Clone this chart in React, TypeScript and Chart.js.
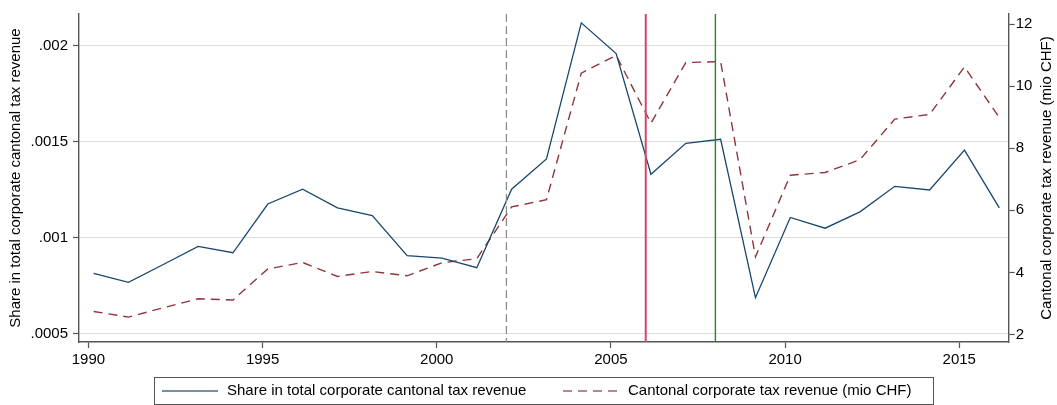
import { useEffect, useRef } from 'react';
import { Chart, registerables } from 'chart.js';
import type { ChartConfiguration, Plugin } from 'chart.js';

Chart.register(...registerables);

const years = [
  1990, 1991, 1992, 1993, 1994, 1995, 1996, 1997, 1998, 1999, 2000, 2001, 2002, 2003,
  2004, 2005, 2006, 2007, 2008, 2009, 2010, 2011, 2012, 2013, 2014, 2015, 2016,
];

// share in total corporate cantonal tax revenue (left axis)
const shareValues = [
  0.000814, 0.000767, 0.00086, 0.000954, 0.000921, 0.001175, 0.001252, 0.001155, 0.001115,
  0.000906, 0.000893, 0.000843, 0.001252, 0.00141, 0.002119, 0.001959, 0.00133, 0.001491,
  0.001512, 0.000687, 0.001105, 0.001049, 0.001134, 0.001267, 0.001248, 0.001456, 0.001155,
];

// cantonal corporate tax revenue, mio CHF (right axis)
const revenueValues = [
  2.74, 2.56, 2.86, 3.15, 3.11, 4.11, 4.32, 3.87, 4.03, 3.89, 4.31, 4.44, 6.11, 6.34,
  10.42, 10.99, 8.81, 10.76, 10.79, 4.5, 7.13, 7.22, 7.63, 8.94, 9.09, 10.62, 8.99,
];

const xTicks = [1990, 1995, 2000, 2005, 2010, 2015];
const leftTicks = [0.0005, 0.001, 0.0015, 0.002];
const rightTicks = [2, 4, 6, 8, 10, 12];
const markerYears = [2002, 2006, 2008];

const leftTitle = 'Share in total corporate cantonal tax revenue';
const rightTitle = 'Cantonal corporate tax revenue (mio CHF)';

// observations sit a bit after the year mark
const pointShift = 0.15;

const FONT = '"Liberation Sans", Arial, Helvetica, sans-serif';
const FONT_SIZE = 15;
const AXIS_COLOR = '#555555';
const NAVY = '#1a476f';
const MAROON = '#90353b';

const markerStyles = [
  { color: '#8c8c8c', width: 1.3, dash: [8, 4] },
  { color: '#d6456b', width: 2, dash: [] as number[] },
  { color: '#218a21', width: 1.4, dash: [] as number[] },
];

function stataNumber(v: number) {
  const s = Number(v.toPrecision(6)).toString();
  return s.startsWith('0.') ? s.slice(1) : s;
}

const markerLines: Plugin<'line'> = {
  id: 'markerLines',
  afterDatasetsDraw(chart) {
    const { ctx, chartArea, scales } = chart;
    markerYears.forEach((yr, i) => {
      const st = markerStyles[i];
      const x = scales.x.getPixelForValue(yr);
      ctx.save();
      ctx.strokeStyle = st.color;
      ctx.lineWidth = st.width;
      ctx.setLineDash(st.dash);
      ctx.beginPath();
      ctx.moveTo(x, chartArea.top);
      ctx.lineTo(x, chartArea.bottom);
      ctx.stroke();
      ctx.restore();
    });
  },
};

const titlesAndLegend: Plugin<'line'> = {
  id: 'titlesAndLegend',
  afterDraw(chart) {
    const { ctx, chartArea } = chart;
    const midY = (chartArea.top + chartArea.bottom) / 2;
    ctx.save();
    ctx.font = `${FONT_SIZE}px ${FONT}`;
    ctx.fillStyle = '#000';
    ctx.textAlign = 'center';
    ctx.textBaseline = 'middle';

    // axis titles, both reading bottom to top
    [[16, leftTitle], [1047, rightTitle]].forEach(([x, text]) => {
      ctx.save();
      ctx.translate(x as number, midY);
      ctx.rotate(-Math.PI / 2);
      ctx.fillText(text as string, 0, 0);
      ctx.restore();
    });

    // legend box
    ctx.strokeStyle = AXIS_COLOR;
    ctx.lineWidth = 1;
    ctx.strokeRect(154.5, 377.5, 779, 27);

    const entries = chart.data.datasets.map((ds, i) => ({
      label: ds.label as string,
      color: ds.borderColor as string,
      dash: (ds as any).borderDash as number[] | undefined,
      x0: i === 0 ? 162 : 563,
    }));
    entries.forEach((e) => {
      ctx.save();
      ctx.strokeStyle = e.color;
      ctx.globalAlpha = 0.8;
      ctx.lineWidth = 1.4;
      ctx.setLineDash(e.dash || []);
      ctx.beginPath();
      ctx.moveTo(e.x0, 391);
      ctx.lineTo(e.x0 + 56, 391);
      ctx.stroke();
      ctx.restore();
      ctx.textAlign = 'left';
      ctx.fillText(e.label, e.x0 + 65, 391);
    });
    ctx.restore();
  },
};

export default function App() {
  const canvasRef = useRef<HTMLCanvasElement>(null);
  const chartRef = useRef<Chart | null>(null);

  useEffect(() => {
    if (!canvasRef.current) return;
    if (chartRef.current) chartRef.current.destroy();

    const tickFont = { family: FONT, size: FONT_SIZE };

    const config: ChartConfiguration<'line'> = {
      type: 'line',
      data: {
        datasets: [
          {
            label: leftTitle,
            data: years.map((yr, i) => ({ x: yr + pointShift, y: shareValues[i] })),
            borderColor: NAVY,
            borderWidth: 1.3,
            pointRadius: 0,
            tension: 0,
            yAxisID: 'y',
          },
          {
            label: rightTitle,
            data: years.map((yr, i) => ({ x: yr + pointShift, y: revenueValues[i] })),
            borderColor: MAROON,
            borderWidth: 1.4,
            borderDash: [9, 6],
            pointRadius: 0,
            tension: 0,
            yAxisID: 'y2',
          },
        ],
      },
      options: {
        responsive: false,
        animation: false,
        devicePixelRatio: 1,
        layout: { padding: { top: 7, left: 0, right: 0, bottom: 0 } },
        plugins: { legend: { display: false }, tooltip: { enabled: false } },
        scales: {
          x: {
            type: 'linear',
            position: 'bottom',
            min: 1989.73,
            max: 2016.42,
            afterBuildTicks: (axis) => {
              axis.ticks = xTicks.map((v) => ({ value: v }));
            },
            afterFit: (axis) => {
              axis.height = 63;
            },
            grid: { drawOnChartArea: false, tickLength: 6, tickColor: AXIS_COLOR, tickWidth: 1.2 },
            border: { color: AXIS_COLOR, width: 1.4 },
            ticks: {
              font: tickFont,
              color: '#000',
              padding: 3,
              maxRotation: 0,
              autoSkip: false,
              callback: (v) => String(v),
            },
          },
          y: {
            type: 'linear',
            position: 'left',
            min: 0.000456,
            max: 0.002165,
            afterBuildTicks: (axis) => {
              axis.ticks = leftTicks.map((v) => ({ value: v }));
            },
            afterFit: (axis) => {
              axis.width = 79;
            },
            grid: { color: '#dedede', lineWidth: 1, tickLength: 6, tickColor: AXIS_COLOR, tickWidth: 1.2 },
            border: { color: AXIS_COLOR, width: 1.4 },
            ticks: {
              font: tickFont,
              color: '#000',
              padding: 5,
              callback: (v) => stataNumber(Number(v)),
            },
          },
          y2: {
            type: 'linear',
            position: 'right',
            min: 1.757,
            max: 12.325,
            afterBuildTicks: (axis) => {
              axis.ticks = rightTicks.map((v) => ({ value: v }));
            },
            afterFit: (axis) => {
              axis.width = 48.3;
            },
            grid: { drawOnChartArea: false, tickLength: 6, tickColor: AXIS_COLOR, tickWidth: 1.2 },
            border: { color: AXIS_COLOR, width: 1.4 },
            ticks: {
              font: tickFont,
              color: '#000',
              padding: 1,
              callback: (v) => String(v),
            },
          },
        },
      },
      plugins: [markerLines, titlesAndLegend],
    };

    chartRef.current = new Chart(canvasRef.current, config);

    return () => {
      if (chartRef.current) {
        chartRef.current.destroy();
        chartRef.current = null;
      }
    };
  }, []);

  return (
    <div style={{ position: 'fixed', left: 0, top: 0, width: 1057, height: 405, background: '#fff' }}>
      <canvas ref={canvasRef} width={1057} height={405} style={{ width: 1057, height: 405 }} />
    </div>
  );
}
